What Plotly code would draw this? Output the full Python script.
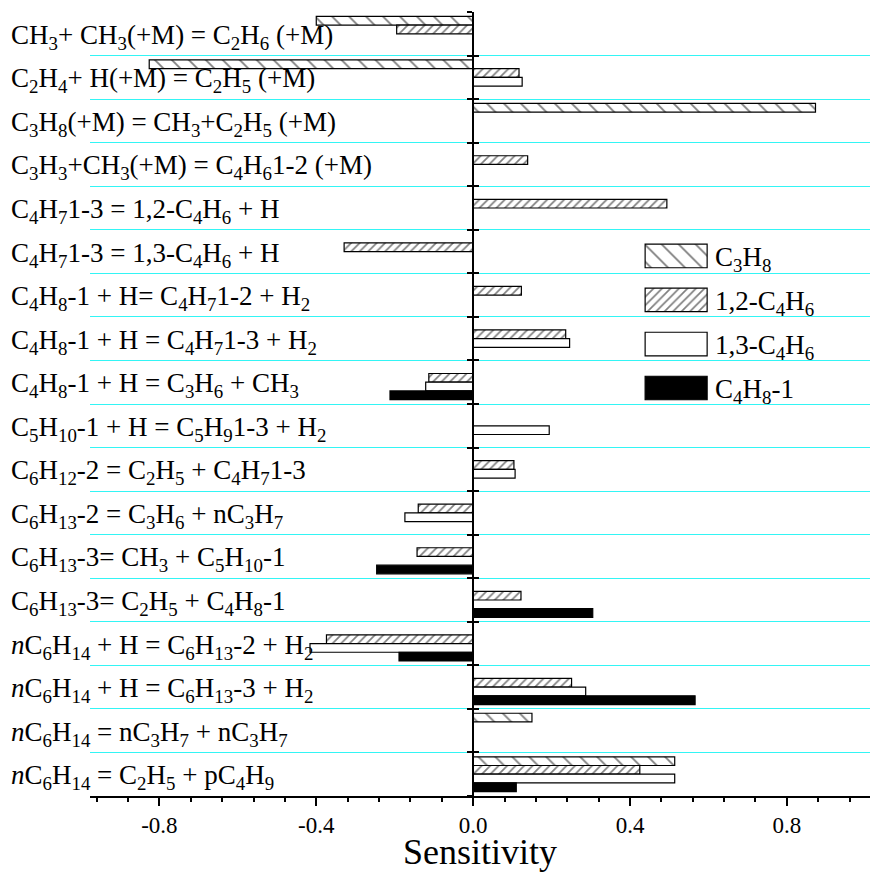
import plotly.graph_objects as go

# Reaction labels, top to bottom
reactions = [
    "CH<sub>3</sub>+ CH<sub>3</sub>(+M) = C<sub>2</sub>H<sub>6</sub> (+M)",
    "C<sub>2</sub>H<sub>4</sub>+ H(+M) = C<sub>2</sub>H<sub>5</sub> (+M)",
    "C<sub>3</sub>H<sub>8</sub>(+M) = CH<sub>3</sub>+C<sub>2</sub>H<sub>5</sub> (+M)",
    "C<sub>3</sub>H<sub>3</sub>+CH<sub>3</sub>(+M) = C<sub>4</sub>H<sub>6</sub>1-2 (+M)",
    "C<sub>4</sub>H<sub>7</sub>1-3 = 1,2-C<sub>4</sub>H<sub>6</sub> + H",
    "C<sub>4</sub>H<sub>7</sub>1-3 = 1,3-C<sub>4</sub>H<sub>6</sub> + H",
    "C<sub>4</sub>H<sub>8</sub>-1 + H= C<sub>4</sub>H<sub>7</sub>1-2 + H<sub>2</sub>",
    "C<sub>4</sub>H<sub>8</sub>-1 + H = C<sub>4</sub>H<sub>7</sub>1-3 + H<sub>2</sub>",
    "C<sub>4</sub>H<sub>8</sub>-1 + H = C<sub>3</sub>H<sub>6</sub> + CH<sub>3</sub>",
    "C<sub>5</sub>H<sub>10</sub>-1 + H = C<sub>5</sub>H<sub>9</sub>1-3 + H<sub>2</sub>",
    "C<sub>6</sub>H<sub>12</sub>-2 = C<sub>2</sub>H<sub>5</sub> + C<sub>4</sub>H<sub>7</sub>1-3",
    "C<sub>6</sub>H<sub>13</sub>-2 = C<sub>3</sub>H<sub>6</sub> + nC<sub>3</sub>H<sub>7</sub>",
    "C<sub>6</sub>H<sub>13</sub>-3= CH<sub>3</sub> + C<sub>5</sub>H<sub>10</sub>-1",
    "C<sub>6</sub>H<sub>13</sub>-3= C<sub>2</sub>H<sub>5</sub> + C<sub>4</sub>H<sub>8</sub>-1",
    "<i>n</i>C<sub>6</sub>H<sub>14</sub> + H = C<sub>6</sub>H<sub>13</sub>-2 + H<sub>2</sub>",
    "<i>n</i>C<sub>6</sub>H<sub>14</sub> + H = C<sub>6</sub>H<sub>13</sub>-3 + H<sub>2</sub>",
    "<i>n</i>C<sub>6</sub>H<sub>14</sub> = nC<sub>3</sub>H<sub>7</sub> + nC<sub>3</sub>H<sub>7</sub>",
    "<i>n</i>C<sub>6</sub>H<sub>14</sub> = C<sub>2</sub>H<sub>5</sub> + pC<sub>4</sub>H<sub>9</sub>",
]

# Sensitivity coefficients per fuel (None = not shown)
sens_c3h8 = [-0.400, -0.826, 0.873, None, None, None, None, None, None,
             None, None, None, None, None, None, None, 0.150, 0.514]
sens_12c4h6 = [-0.195, 0.117, None, 0.139, 0.494, -0.329, 0.123, 0.236, -0.113,
               None, 0.104, -0.140, -0.143, 0.122, -0.374, 0.251, None, 0.425]
sens_13c4h6 = [None, 0.125, None, None, None, None, None, 0.246, -0.121,
               0.194, 0.107, -0.174, None, None, -0.416, 0.287, None, 0.514]
sens_c4h8 = [None, None, None, None, None, None, None, None, -0.212,
             None, None, None, -0.246, 0.305, -0.189, 0.566, None, 0.110]

series_names = ["C<sub>3</sub>H<sub>8</sub>", "1,2-C<sub>4</sub>H<sub>6</sub>",
                "1,3-C<sub>4</sub>H<sub>6</sub>", "C<sub>4</sub>H<sub>8</sub>-1"]
series_values = [sens_c3h8, sens_12c4h6, sens_13c4h6, sens_c4h8]

x_ticks = [-0.8, -0.4, 0.0, 0.4, 0.8]
x_range = [-0.977, 1.012]

FONT = "Liberation Serif, Times New Roman, serif"

# fill styles for the four fuels
styles = [
    dict(color="white", pattern=dict(shape="\\", fgcolor="black", bgcolor="white", size=12, solidity=0.15)),
    dict(color="white", pattern=dict(shape="/", fgcolor="black", bgcolor="white", size=6, solidity=0.28)),
    dict(color="white"),
    dict(color="black"),
]

n = len(reactions)
pos = list(range(n))
boundaries = [i - 0.5 for i in range(n + 1)]
interior = boundaries[1:-1]

fig = go.Figure()
for name, vals, st in zip(series_names, series_values, styles):
    fig.add_trace(go.Bar(
        y=pos, x=vals, orientation="h", name=name, showlegend=False,
        marker=dict(line=dict(color="black", width=1.2), **st),
    ))

# Legend drawn with bars on a unit overlay so the hatching shows at full size
leg_x0, leg_w = 0.7117, 0.0795
leg_y = [0.6888, 0.6327, 0.5765, 0.5204]
leg_h = 0.030
for name, st, yc in zip(series_names, styles, leg_y):
    fig.add_trace(go.Bar(
        y=[yc], x=[leg_w], base=[leg_x0], orientation="h", width=[leg_h], offset=-leg_h / 2,
        xaxis="x2", yaxis="y2", showlegend=False, hoverinfo="skip",
        marker=dict(line=dict(color="black", width=1.2), **st),
    ))
    fig.add_annotation(x=0.7985, y=yc, xref="paper", yref="paper", text=name,
                       showarrow=False, xanchor="left", yanchor="middle",
                       font=dict(family=FONT, size=27, color="black"), yshift=-3)

# Placeholder traces binding the zero-line axes
for ax in ["y3", "y4"]:
    fig.add_trace(go.Scatter(x=[None], y=[None], yaxis=ax, showlegend=False, hoverinfo="skip"))

# Reaction labels on the left
for i, lab in enumerate(reactions):
    fig.add_annotation(x=-0.104, y=i, xref="paper", yref="y", text=lab, showarrow=False,
                       xanchor="left", yanchor="middle",
                       font=dict(family=FONT, size=27, color="black"), yshift=-3)

zero_pos = (0 - x_range[0]) / (x_range[1] - x_range[0])
yrange = [n - 0.5, -0.5]

fig.update_layout(
    width=870, height=872,
    margin=dict(l=90, r=0, t=12, b=76),
    plot_bgcolor="white", paper_bgcolor="white",
    barmode="group", bargap=0.2, bargroupgap=0,
    font=dict(family=FONT, color="black"),
    xaxis=dict(
        range=x_range, tickvals=x_ticks, ticktext=[f"{v:.1f}" for v in x_ticks],
        ticks="outside", ticklen=8, tickwidth=1.5, tickcolor="black",
        minor=dict(dtick=0.08, tick0=0, ticks="outside", ticklen=4.5, tickwidth=1.5, tickcolor="black", showgrid=False),
        showline=True, linecolor="black", linewidth=1.5, showgrid=False, zeroline=False,
        tickfont=dict(family=FONT, size=23, color="black"),
        title=dict(text="Sensitivity", font=dict(family=FONT, size=36, color="black"), standoff=6),
    ),
    yaxis=dict(
        range=yrange, tickvals=interior, showticklabels=False, ticks="",
        showgrid=True, gridcolor="#33F5F5", gridwidth=1.3, zeroline=False, showline=False,
    ),
    xaxis2=dict(overlaying="x", range=[0, 1], visible=False),
    yaxis2=dict(overlaying="y", range=[0, 1], visible=False),
    yaxis3=dict(
        overlaying="y", anchor="free", position=zero_pos, side="left", range=yrange,
        tickvals=boundaries, showticklabels=False, ticks="outside", ticklen=5, tickwidth=1.5,
        tickcolor="black", showline=True, linecolor="black", linewidth=1.5,
        showgrid=False, zeroline=False,
    ),
    yaxis4=dict(
        overlaying="y", anchor="free", position=zero_pos, side="left", range=yrange,
        tickvals=boundaries, showticklabels=False, ticks="inside", ticklen=5, tickwidth=1.5,
        tickcolor="black", showline=False, showgrid=False, zeroline=False,
    ),
)

fig.write_html("out.html")
